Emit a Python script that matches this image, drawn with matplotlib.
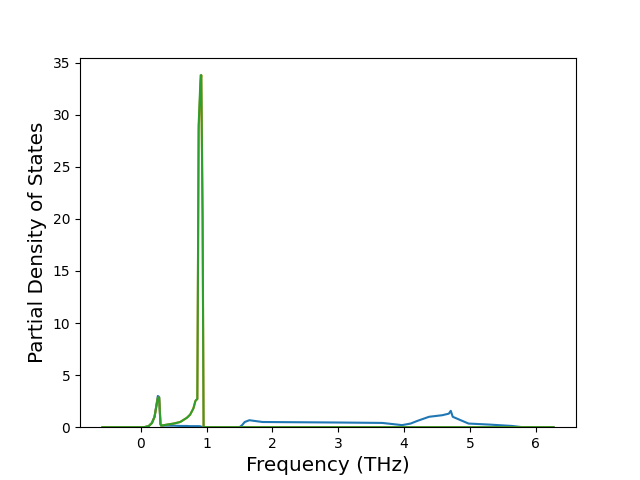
import numpy as np
import matplotlib
matplotlib.use("Agg")
import matplotlib.pyplot as plt

# === Data ===
freq = [-0.58, 0.05, 0.12, 0.17, 0.21, 0.24, 0.26, 0.28, 0.3, 0.31, 0.4, 0.5, 0.6, 0.7,
        0.75, 0.8, 0.83, 0.84, 0.86, 0.88, 0.91, 0.92, 0.94, 0.955, 1.0, 1.5, 1.54,
        1.58, 1.65, 1.85, 3.0, 3.67, 3.97, 4.1, 4.2, 4.38, 4.58, 4.68, 4.71, 4.74,
        4.85, 4.98, 5.3, 5.64, 5.8, 6.27]

dos_a = [0.0, 0.0, 0.1, 0.4, 1.0, 2.2, 3.0, 2.9, 0.3, 0.15, 0.15, 0.15, 0.12, 0.12,
         0.1, 0.1, 0.1, 0.1, 0.1, 0.1, 0.08, 0.05, 0.02, 0.0, 0.0, 0.0, 0.2,
         0.5, 0.67, 0.5, 0.45, 0.41, 0.2, 0.35, 0.6, 1.0, 1.15, 1.3, 1.57, 1.0,
         0.7, 0.35, 0.25, 0.12, 0.0, 0.0]

dos_b = [0.0, 0.0, 0.1, 0.4, 1.0, 2.1, 2.8, 2.85, 0.3, 0.15, 0.25, 0.35, 0.5, 0.9,
         1.2, 1.8, 2.5, 2.6, 2.7, 28.5, 33.2, 33.8, 20.0, 0.0, 0.0, 0.0, 0.0,
         0.0, 0.0, 0.0, 0.0, 0.0, 0.0, 0.0, 0.0, 0.0, 0.0, 0.0, 0.0, 0.0,
         0.0, 0.0, 0.0, 0.0, 0.0, 0.0]

dos_c = [0.0, 0.0, 0.1, 0.4, 1.0, 2.1, 2.8, 2.85, 0.3, 0.15, 0.25, 0.35, 0.5, 0.9,
         1.2, 1.8, 2.5, 2.6, 2.7, 29.0, 33.8, 33.8, 20.0, 0.0, 0.0, 0.0, 0.0,
         0.0, 0.0, 0.0, 0.0, 0.0, 0.0, 0.0, 0.0, 0.0, 0.0, 0.0, 0.0, 0.0,
         0.0, 0.0, 0.0, 0.0, 0.0, 0.0]

# === Plot ===
fig, ax = plt.subplots(figsize=(6.4, 4.8), dpi=100)
ax.plot(freq, dos_a)
ax.plot(freq, dos_b)
ax.plot(freq, dos_c)
ax.set_ylim(bottom=0)
ax.set_xlabel("Frequency (THz)", fontsize="x-large")
ax.set_ylabel("Partial Density of States", fontsize="x-large")
fig.savefig("out.png", dpi=100)
